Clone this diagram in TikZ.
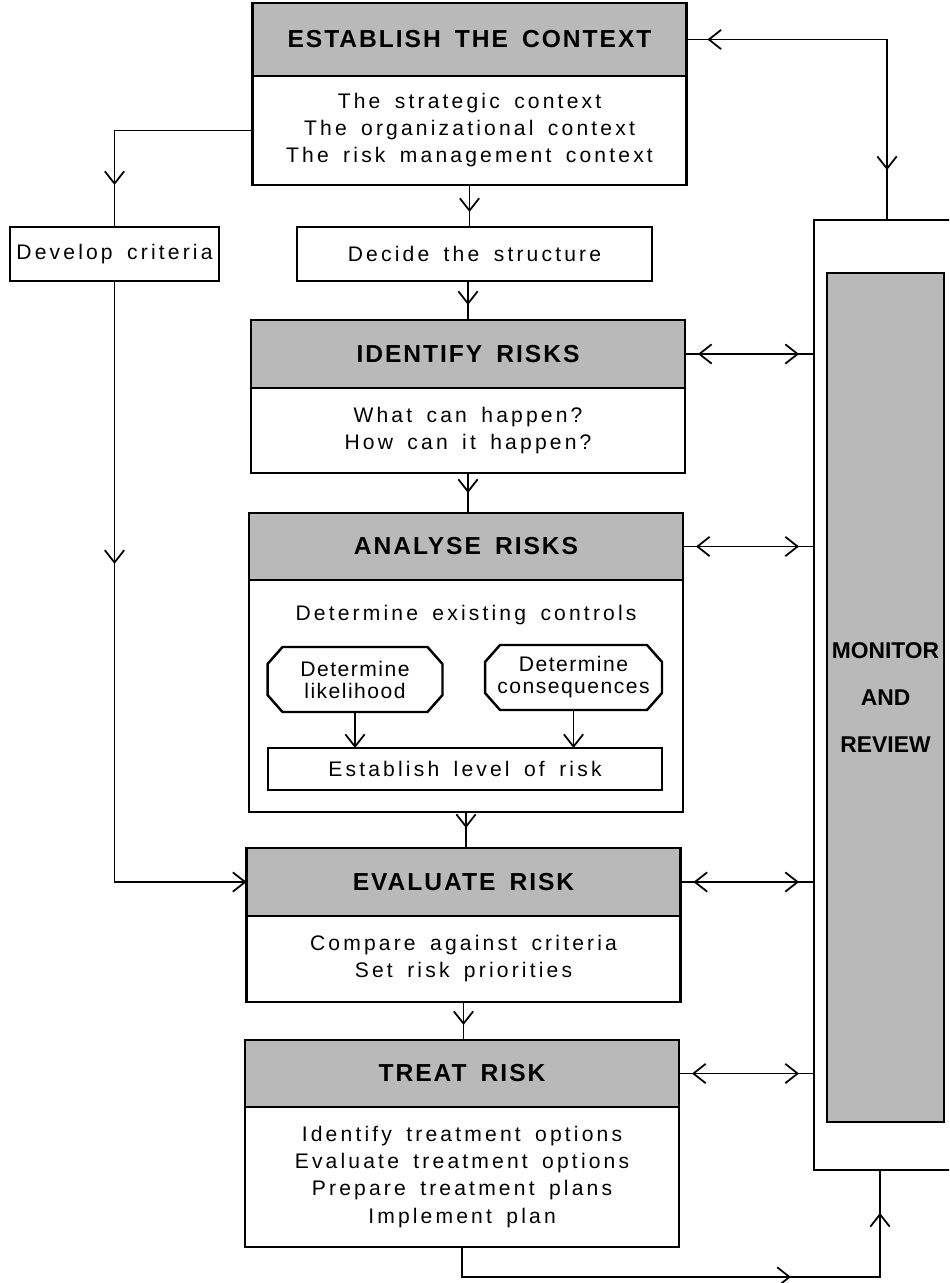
\documentclass[tikz,border=0pt]{standalone}
\usepackage{fontspec}
\setmainfont{Liberation Sans}[LetterSpace=15,WordSpace=1.6]
\usetikzlibrary{arrows.meta, positioning, decorations.markings}

\tikzset{
    >={Straight Barb[length=7pt, width=11pt]},
}

\begin{document}
\begin{tikzpicture}[
    x=0.02cm, y=-0.02cm,
    stage/.style={draw, line width=1.4pt, fill=gray!55, inner sep=0pt, outer sep=0pt,
                  minimum width=8.68cm,
                  font=\fontsize{14}{15}\selectfont\bfseries\addfontfeature{LetterSpace=8}},
    body/.style={draw, line width=1.4pt, fill=white, inner sep=0pt, outer sep=0pt,
                 minimum width=8.68cm, align=center, font=\fontsize{12}{15.4}\selectfont},
    task/.style={draw, line width=1.4pt, inner sep=0pt, outer sep=0pt, align=center,
                 font=\fontsize{12}{15}\selectfont},
    choice/.style={inner sep=0pt, outer sep=0pt, minimum width=3.5cm, minimum height=1.3cm,
                   align=center, font=\fontsize{12}{12.5}\selectfont\addfontfeature{LetterSpace=7}},
    link/.style={line width=1pt},
    fwd/.style={postaction={decorate, decoration={markings,
                mark=at position #1 with {\arrow{>}}}}},
    bwd/.style={postaction={decorate, decoration={markings,
                mark=at position #1 with {\arrowreversed{>}}}}},
]
    \useasboundingbox (0,0) rectangle (949,1283);
    \clip (0,0) rectangle (949,1283);

    % Monitor and review column
    \node[draw, line width=1.4pt, fill=white, inner sep=0pt, outer sep=0pt,
          minimum width=2.92cm, minimum height=19cm] (mon) at (887,695) {};
    \node[stage, minimum width=2.34cm, minimum height=16.98cm, align=center,
          font=\fontsize{13}{27}\selectfont\bfseries\addfontfeature{LetterSpace=0}]
          (monbar) at (885.5,697.5) {MONITOR\\AND\\REVIEW};

    % Context
    \node[stage, minimum height=1.46cm] (estH) at (469.5,39.5) {ESTABLISH THE CONTEXT};
    \node[body, below=0pt of estH, minimum height=2.18cm] (estB)
          {The strategic context\\The organizational context\\The risk management context};
    \node[task, minimum width=4.18cm, minimum height=1.08cm] (crit) at (114.5,254) {Develop criteria};
    \node[task, minimum width=7.1cm, minimum height=1.08cm] (decide) at (474.5,254) {Decide the structure};

    % Identify
    \node[stage, minimum height=1.36cm] (idH) at (468,354) {IDENTIFY RISKS};
    \node[body, below=0pt of idH, minimum height=1.7cm] (idB) {What can happen?\\How can it happen?};

    % Analyse
    \node[stage, minimum height=1.34cm] (anH) at (466,546.5) {ANALYSE RISKS};
    \node[body, below=0pt of anH, minimum height=4.64cm] (anB) {};
    \node[font=\fontsize{12}{15}\selectfont] (ctrl) at (466,615) {Determine existing controls};
    \node[choice] (likely) at (355,679.5) {Determine\\likelihood};
    \node[choice, minimum width=3.54cm] (conseq) at (573.5,677.5) {Determine\\consequences};
    \foreach \o in {likely, conseq}
        \draw[line width=1.4pt]
            ([xshift=0.3cm]\o.north west) -- ([xshift=-0.3cm]\o.north east)
            -- ([yshift=-0.34cm]\o.north east) -- ([yshift=0.34cm]\o.south east)
            -- ([xshift=-0.3cm]\o.south east) -- ([xshift=0.3cm]\o.south west)
            -- ([yshift=0.34cm]\o.south west) -- ([yshift=-0.34cm]\o.north west) -- cycle;
    \node[task, minimum width=7.88cm, minimum height=0.84cm] (level) at (465,769) {Establish level of risk};

    % Evaluate
    \node[stage, minimum height=1.36cm] (evH) at (463.5,882) {EVALUATE RISK};
    \node[body, below=0pt of evH, minimum height=1.72cm] (evB) {Compare against criteria\\Set risk priorities};

    % Treat
    \node[stage, minimum height=1.34cm] (trH) at (462,1073.5) {TREAT RISK};
    \node[body, below=0pt of trH, minimum height=2.8cm] (trB)
          {Identify treatment options\\Evaluate treatment options\\Prepare treatment plans\\Implement plan};

    % Main flow
    \draw[link, bwd=0.42cm, fwd=-1cm] (estH.east) -| (mon.north);
    \draw[link, fwd=-0.84cm] (estB.west) -| (crit.north);
    \draw[link, fwd=-0.3cm] (estB.south) -- (estB.south |- decide.north);
    \draw[link, fwd=-0.3cm] (idH.north |- decide.south) -- (idH.north);
    \draw[link, fwd=-0.4cm] (idB.south) -- (idB.south |- anH.north);
    \draw[link, fwd=-0.4cm] (anB.south) -- (anB.south |- evH.north);
    \draw[link, fwd=-0.3cm] (evB.south) -- (evB.south |- trH.north);
    \draw[link, ->] (likely) -- (likely |- level.north);
    \draw[link, ->] (conseq) -- (conseq |- level.north);

    % Criteria into evaluation
    \draw[link, fwd=5.66cm, ->] (crit.south) |- (evH.west);

    % Links to monitor and review
    \foreach \s in {idH, anH, evH, trH}
        \draw[link, bwd=0.26cm, fwd=-0.3cm] (\s.east) -- (\s.east -| mon.west);
    \draw[link, fwd=7.18cm, fwd=-0.86cm] (trB.south) -- ++(0,30) -| ([xshift=-0.14cm]mon.south);
\end{tikzpicture}
\end{document}
